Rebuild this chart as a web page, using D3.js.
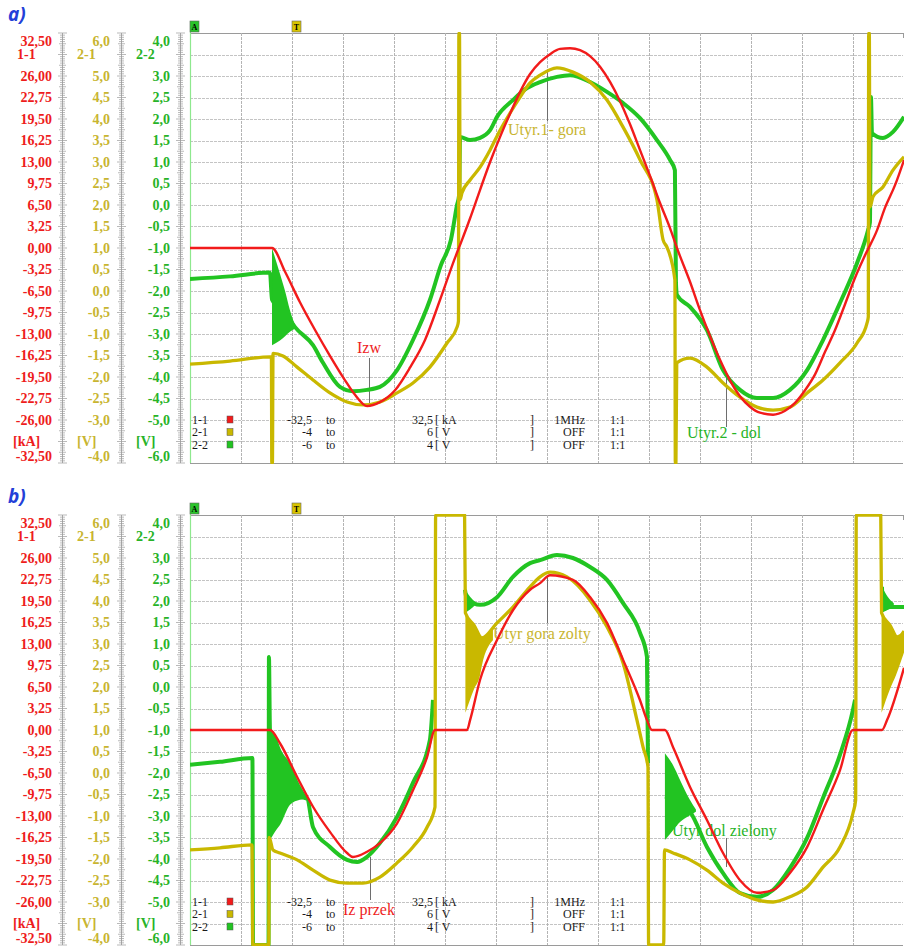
<!DOCTYPE html>
<html>
<head>
<meta charset="utf-8">
<script src="https://cdn.jsdelivr.net/npm/d3@7"></script>
<style>
body { margin: 0; background: #fff; }
svg { display: block; }
</style>
</head>
<body>
<svg id="chart" width="904" height="946"></svg>
<script>
// time axis: 14 divisions of 2,5 ms
var timeDomain = [0, 35]

// axis labels of the three channels
var kaTicks = [32.5, 26, 22.75, 19.5, 16.25, 13, 9.75, 6.5, 3.25, 0, -3.25, -6.5, -9.75, -13, -16.25, -19.5, -22.75, -26, -32.5]
var v21Ticks = [6, 5, 4.5, 4, 3.5, 3, 2.5, 2, 1.5, 1, 0.5, 0, -0.5, -1, -1.5, -2, -2.5, -3, -4]
var v22Ticks = [4, 3, 2.5, 2, 1.5, 1, 0.5, 0, -0.5, -1, -1.5, -2, -2.5, -3, -3.5, -4, -4.5, -5, -6]

// legend table
var legendChan = ["1-1", "2-1", "2-2"]
var legendFrom = ["-32,5", "-4", "-6"]
var legendTo = ["32,5", "6", "4"]
var legendUnit = ["kA", "V", "V"]
var legendFilter = ["1MHz", "OFF", "OFF"]
var legendRatio = ["1:1", "1:1", "1:1"]

// ---------- a) ----------  [ms, kA]
var redA = [[0,0],[4.02,0],[4.66,-3.6],[5.39,-8.2],[6.13,-12.4],[6.86,-16.3],[7.60,-20.0],[8.09,-22.2],[8.68,-23.9],[9.31,-23.3],[10.05,-21.5],[10.78,-18.1],[11.52,-13.9],[12.25,-7.9],[12.99,-1.5],[13.33,1.2],[13.73,4.5],[14.22,8.8],[14.71,13.0],[15.20,16.8],[15.69,20.3],[16.18,23.6],[16.67,26.3],[17.16,28.1],[17.65,29.3],[18.14,30.1],[18.63,30.2],[19.12,29.9],[19.61,29.0],[20.10,27.4],[20.59,25.1],[21.08,22.2],[21.57,18.7],[22.06,14.8],[22.55,10.9],[23.04,6.8],[23.53,3.0],[23.87,0],[24.51,-5.1],[25.00,-9.4],[25.49,-13.3],[25.98,-16.9],[26.47,-20.0],[26.96,-22.4],[27.45,-24.0],[27.94,-24.9],[28.58,-25.2],[29.17,-24.6],[29.66,-23.4],[30.15,-21.5],[30.64,-19.1],[31.13,-15.7],[31.62,-12.4],[32.11,-8.5],[32.60,-4.5],[33.09,-1.1],[33.68,2.7],[34.07,6.1],[34.56,9.5],[35,13.3]]
// [ms, V] channel 2-1
var yellowA = [[0,-1.70],[1.96,-1.63],[3.92,-1.53],[3.99,-1.53],[4.01,-4.0],[4.04,-4.0],[4.07,-1.45],[4.56,-1.51],[5.25,-1.77],[6.03,-2.07],[6.86,-2.37],[7.70,-2.58],[8.48,-2.65],[9.31,-2.58],[10.15,-2.37],[10.93,-2.14],[11.76,-1.77],[12.60,-1.21],[13.09,-0.84],[13.16,-0.70],[13.18,6.0],[13.21,6.0],[13.24,2.12],[13.33,2.28],[13.73,2.58],[14.22,2.88],[14.71,3.28],[15.20,3.74],[15.69,4.14],[16.18,4.51],[16.67,4.84],[17.16,5.02],[17.99,5.19],[18.77,5.09],[19.61,4.86],[20.44,4.44],[21.23,3.81],[22.06,3.05],[22.89,2.12],[23.19,1.19],[23.38,1.02],[23.77,0.26],[23.79,-4.0],[23.82,-4.0],[23.86,-1.67],[24.51,-1.56],[25.34,-1.77],[26.13,-2.14],[26.96,-2.47],[27.79,-2.70],[28.58,-2.77],[29.41,-2.70],[30.25,-2.37],[31.03,-2.07],[31.86,-1.67],[32.70,-1.21],[33.19,-0.74],[33.25,-0.60],[33.27,6.0],[33.30,6.0],[33.33,1.95],[33.48,2.19],[33.97,2.42],[34.46,2.81],[35,3.12]]
// [ms, V] channel 2-2
var greenA = [[0,-1.72],[1.96,-1.66],[3.92,-1.57],[4.02,-2.2],[4.66,-2.5],[5.15,-2.84],[6.03,-3.26],[6.52,-3.67],[7.35,-4.23],[7.99,-4.33],[8.68,-4.30],[9.31,-4.23],[10.15,-3.84],[10.93,-3.14],[11.76,-2.21],[12.30,-1.40],[12.79,-0.81],[13.09,0.0],[13.19,0.23],[13.24,1.58],[13.73,1.51],[14.22,1.56],[14.71,1.74],[15.05,2.05],[15.83,2.44],[16.52,2.72],[17.16,2.86],[17.99,2.98],[18.63,3.02],[19.61,2.86],[20.44,2.63],[21.23,2.37],[22.06,2.02],[22.89,1.51],[23.53,1.05],[23.77,0.81],[23.82,-1.80],[23.87,-2.09],[24.51,-2.37],[25.34,-2.91],[26.13,-3.84],[26.96,-4.30],[27.79,-4.49],[28.58,-4.49],[29.41,-4.30],[30.25,-3.84],[31.03,-3.14],[31.86,-2.28],[32.70,-1.35],[33.24,-0.58],[33.33,-0.40],[33.38,2.51],[33.43,1.67],[33.97,1.56],[34.46,1.70],[35,2.05]]
// ringing envelope [ms, upper V, lower V]
var greenAOsc = [[4.02,-1.0,-3.26],[4.41,-1.6,-3.15],[4.66,-2.0,-3.05],[4.90,-2.45,-2.95],[5.15,-2.8,-2.88]]

// ---------- b) ----------
var redB = [[0,0],[3.92,0],[4.41,-2.0],[5.25,-7.1],[6.03,-11.6],[6.86,-15.4],[7.70,-18.6],[7.99,-19.2],[8.68,-18.4],[9.31,-17.1],[10.15,-14.1],[10.93,-9.1],[11.62,-4.1],[12.01,0],[13.58,0],[13.73,1.5],[14.22,7.6],[15.05,13.6],[15.83,18.1],[16.67,21.2],[17.16,22.2],[17.65,23.4],[18.77,22.7],[19.61,20.1],[20.44,16.2],[21.23,10.6],[22.06,4.5],[22.40,1.5],[22.65,0],[23.28,0],[23.68,-2.6],[24.51,-8.6],[25.34,-13.6],[26.13,-18.6],[26.96,-22.7],[27.79,-24.6],[28.58,-24.2],[29.41,-21.6],[30.25,-17.7],[31.03,-12.1],[31.86,-6.1],[32.50,0],[33.92,0],[34.17,1.5],[35,9.4]]
var yellowB = [[0,-1.79],[1.47,-1.74],[3.04,-1.67],[3.08,-4.0],[3.86,-4.0],[3.88,-1.5],[4.07,-1.79],[4.41,-1.86],[5.25,-2.02],[6.03,-2.26],[6.86,-2.49],[7.70,-2.56],[8.48,-2.56],[9.31,-2.42],[10.15,-2.09],[10.93,-1.72],[11.62,-1.26],[12.01,-0.79],[12.04,6.0],[13.46,6.0],[13.50,3.72],[13.92,3.44],[14.31,3.14],[15.05,3.49],[15.83,3.86],[16.67,4.33],[17.16,4.56],[17.65,4.67],[18.48,4.56],[19.61,4.02],[20.44,3.40],[21.23,2.56],[21.91,1.23],[22.21,0.60],[22.45,0.14],[22.48,-4.0],[23.22,-4.0],[23.26,-1.79],[23.68,-1.86],[24.51,-2.02],[25.34,-2.26],[26.13,-2.56],[26.96,-2.79],[27.79,-2.95],[28.58,-3.00],[29.41,-2.88],[30.25,-2.65],[31.03,-2.19],[31.86,-1.72],[32.50,-0.93],[32.63,-0.63],[32.66,6.0],[33.86,6.0],[33.90,3.72],[34.31,3.44],[34.70,3.14],[35,3.30]]
var greenB = [[0,-1.81],[1.47,-1.74],[3.06,-1.65],[3.09,-6.0],[3.85,-6.0],[3.87,0.70],[3.92,-1.0],[4.41,-2.3],[4.90,-2.5],[5.74,-2.6],[6.03,-3.26],[6.86,-3.72],[7.70,-4.02],[8.19,-4.07],[8.68,-3.95],[9.31,-3.63],[10.15,-3.02],[10.93,-2.23],[11.76,-1.23],[11.91,-0.30], null,
  [13.48,2.26],[13.58,2.02],[13.87,1.95],[14.22,1.91],[15.05,2.09],[15.83,2.56],[16.67,2.88],[17.16,2.95],[17.99,3.07],[18.77,3.00],[19.61,2.79],[20.44,2.49],[21.23,1.95],[22.06,1.26],[22.40,0.70],[22.45,-1.77], null,
  [23.28,-2.55],[23.68,-2.6],[24.17,-2.75],[24.51,-2.9],[25.34,-3.72],[26.13,-4.33],[26.96,-4.79],[27.79,-4.88],[28.58,-4.72],[29.41,-4.21],[30.25,-3.51],[31.03,-2.58],[31.86,-1.58],[32.50,-0.53],[32.60,-0.30], null,
  [33.92,2.33],[33.97,1.80],[34.31,1.86],[35,1.86]]
var greenBOsc = [[3.92,-1.0,-3.56],[4.26,-1.19,-3.3],[4.41,-1.4,-3.21],[4.90,-1.77,-2.74],[5.39,-2.28,-2.62],[5.74,-2.56,-2.60]]
var greenBOsc2 = [[23.28,-1.54,-3.56],[23.68,-1.82,-3.33],[24.02,-2.16,-3.14],[24.51,-2.63,-2.98],[24.80,-2.85,-2.90]]
var greenBOsc3 = [[13.48,2.26,1.72],[13.73,2.10,1.80],[13.97,1.98,1.90]]
var greenBOsc4 = [[33.92,2.33,1.72],[34.20,2.10,1.80],[34.50,1.95,1.85]]
var yellowBOsc = [[13.50,3.72,1.40],[13.92,3.44,1.95],[14.22,3.20,2.28],[14.31,3.14,2.50],[14.85,3.35,3.09]]
var yellowBOsc2 = [[33.90,3.72,1.40],[34.31,3.44,1.95],[34.61,3.20,2.28],[35,3.30,2.80]]

var RED = "#f21b1b", YEL = "#c9b800", GRN = "#22c422"
var RED_T = "#ee1c1c", YEL_T = "#c8b530", GRN_T = "#27b327"
var SERIF = "'Liberation Serif', 'Times New Roman', 'DejaVu Serif', serif"

var locale = d3.formatLocale({decimal: ",", thousands: ".", grouping: [3], currency: ["", ""], minus: "-"})
var f2 = locale.format(".2f"), f1 = locale.format(".1f")

var svg = d3.select("#chart")

var panels = [
  {top: 33, name: "a)", red: redA, yellow: yellowA, green: greenA,
   greenOsc: [greenAOsc], yellowOsc: [],
   notes: [
     {text: "Izw", color: RED_T, x: 357, y: 320, lx: 369, y1: 325, y2: 370},
     {text: "Utyr.1- gora", color: YEL_T, x: 508, y: 102, lx: 547, y1: 37, y2: 88},
     {text: "Utyr.2 - dol", color: GRN_T, x: 687, y: 405, lx: 726, y1: 344, y2: 394}
   ]},
  {top: 515, name: "b)", red: redB, yellow: yellowB, green: greenB,
   greenOsc: [greenBOsc, greenBOsc2, greenBOsc3, greenBOsc4], yellowOsc: [yellowBOsc, yellowBOsc2],
   notes: [
     {text: "Iz przek", color: RED_T, x: 343, y: 400, lx: 370, y1: 342, y2: 385},
     {text: "Utyr gora zolty", color: YEL_T, x: 493, y: 124, lx: 547, y1: 62, y2: 108},
     {text: "Utyr dol zielony", color: GRN_T, x: 672, y: 321, lx: 726, y1: 323, y2: 352}
   ]}
]

panels.forEach(function(p, pi) {
   var top = p.top, bottom = top + 430
   var g = svg.append("g")

   var x = d3.scaleLinear().domain(timeDomain).range([190, 904])
   var yKa = d3.scaleLinear().domain([-32.5, 32.5]).range([bottom, top])
   var y21 = d3.scaleLinear().domain([-4, 6]).range([bottom, top])
   var y22 = d3.scaleLinear().domain([-6, 4]).range([bottom, top])

   // panel letter
   g.append("text")
      .attr("x", 8).attr("y", top - 12)
      .text(p.name)
      .style("font-family", "'Open Sans', 'Liberation Sans', sans-serif")
      .style("font-size", "19px").style("font-weight", "bold").style("font-style", "italic")
      .attr("fill", "#2340d8")

   ////////////////// grid //////////////////
   var hLines = d3.range(21).map(function(i) { return -32.5 + 3.25 * i })
   g.selectAll(".hgrid").data(hLines).enter().append("line")
      .attr("x1", 190).attr("x2", 903)
      .attr("y1", function(d) { return Math.round(yKa(d)) + 0.5 })
      .attr("y2", function(d) { return Math.round(yKa(d)) + 0.5 })
      .attr("stroke", function(d, i) { return (i == 20 || i == 0) ? "#9a9a9a" : "#c4c4c4" })
      .attr("stroke-dasharray", function(d, i) { return (i == 20 || i == 0) ? null : "3,1" })
   var vLines = d3.range(1, 14).map(function(i) { return 2.5 * i })
   g.selectAll(".vgrid").data(vLines).enter().append("line")
      .attr("x1", function(d) { return Math.round(x(d)) + 0.5 })
      .attr("x2", function(d) { return Math.round(x(d)) + 0.5 })
      .attr("y1", top).attr("y2", bottom)
      .attr("stroke", "#b4b4b4").attr("stroke-dasharray", "3,1")
   // right edge tick
   g.append("line").attr("x1", 903.5).attr("x2", 903.5).attr("y1", top).attr("y2", top + 5).attr("stroke", "#9a9a9a")
   // start cursor
   g.append("line").attr("x1", 190.5).attr("x2", 190.5).attr("y1", top - 12).attr("y2", bottom)
      .attr("stroke", "#8ee88e").attr("stroke-width", 1.2)

   // A / T markers
   var marks = [{t: 0, c: "#2ac42a", s: "A"}, {t: 5, c: "#d8c400", s: "T"}]
   marks.forEach(function(m) {
      var mx = Math.round(x(m.t))
      g.append("rect").attr("x", mx).attr("y", top - 12).attr("width", 9).attr("height", 11)
         .attr("fill", m.c).attr("stroke", "#666").attr("stroke-width", 0.6)
      g.append("text").attr("x", mx + 4.5).attr("y", top - 3.5).text(m.s)
         .attr("text-anchor", "middle")
         .style("font-family", SERIF).style("font-size", "8px").style("font-weight", "bold")
   })

   ////////////////// left scales //////////////////
   var chans = [
      {scale: yKa, ticks: kaTicks, fmt: f2, col: RED_T, labelX: 52, rulerX: 62.5, name: "1-1", unit: "[kA]", nameX: 17, unitX: 13},
      {scale: y21, ticks: v21Ticks, fmt: f1, col: YEL_T, labelX: 110, rulerX: 121.5, name: "2-1", unit: "[V]", nameX: 77, unitX: 77},
      {scale: y22, ticks: v22Ticks, fmt: f1, col: GRN_T, labelX: 170, rulerX: 180.5, name: "2-2", unit: "[V]", nameX: 136, unitX: 136}
   ]
   chans.forEach(function(c) {
      var dom = c.scale.domain(), step = (dom[1] - dom[0]) / 200
      var minor = d3.range(201).map(function(i) { return dom[0] + step * i })
      g.append("line").attr("x1", c.rulerX).attr("x2", c.rulerX)
         .attr("y1", top).attr("y2", bottom).attr("stroke", "#a8a8a8").attr("stroke-width", 1)
      g.selectAll(".rt").data(minor).enter().append("line")
         .attr("x1", function(d, i) { return c.rulerX - (i % 10 == 0 ? 4.5 : (i % 5 == 0 ? 3.5 : 2.5)) })
         .attr("x2", function(d, i) { return c.rulerX + (i % 10 == 0 ? 4.5 : (i % 5 == 0 ? 3.5 : 2.5)) })
         .attr("y1", function(d) { return c.scale(d) })
         .attr("y2", function(d) { return c.scale(d) })
         .attr("stroke", "#9c9c9c").attr("stroke-width", 0.7)

      g.selectAll(".tl").data(c.ticks).enter().append("text")
         .attr("x", c.labelX)
         .attr("y", function(d) { return Math.min(Math.max(c.scale(d), top + 8), bottom - 7) })
         .attr("dy", "0.35em")
         .attr("text-anchor", "end")
         .text(function(d) { return c.fmt(d) })
         .attr("fill", c.col)
         .style("font-family", SERIF).style("font-size", "14px").style("font-weight", "bold")
      g.append("text").attr("x", c.nameX).attr("y", top + 21.5).attr("dy", "0.35em").text(c.name)
         .attr("fill", c.col)
         .style("font-family", SERIF).style("font-size", "14px").style("font-weight", "bold")
      g.append("text").attr("x", c.unitX).attr("y", bottom - 21.5).attr("dy", "0.35em").text(c.unit)
         .attr("fill", c.col)
         .style("font-family", SERIF).style("font-size", "14px").style("font-weight", "bold")
   })

   ////////////////// annotations (under traces) //////////////////
   p.notes.forEach(function(n) {
      g.append("line").attr("x1", n.lx + 0.5).attr("x2", n.lx + 0.5)
         .attr("y1", top + n.y1).attr("y2", top + n.y2).attr("stroke", "#6e6e6e").attr("stroke-width", 1)
      g.append("text").attr("x", n.x).attr("y", top + n.y).text(n.text)
         .attr("fill", n.color)
         .style("font-family", SERIF).style("font-size", "16px")
   })

   ////////////////// traces //////////////////
   g.append("clipPath").attr("id", "clip" + pi).append("rect")
      .attr("x", 190).attr("y", top - 1).attr("width", 714).attr("height", 432)
   var plot = g.append("g").attr("clip-path", "url(#clip" + pi + ")")

   function lineFor(ys) {
      return d3.line()
         .defined(function(d) { return d !== null })
         .curve(d3.curveMonotoneX)
         .x(function(d) { return x(d[0]) })
         .y(function(d) { return ys(d[1]) })
   }
   function areaFor(ys) {
      return d3.area()
         .curve(d3.curveMonotoneX)
         .x(function(d) { return x(d[0]) })
         .y0(function(d) { return ys(d[2]) })
         .y1(function(d) { return ys(d[1]) })
   }

   plot.append("path").datum(p.green)
      .attr("d", lineFor(y22)).attr("fill", "none")
      .attr("stroke", GRN).attr("stroke-width", 4).attr("stroke-linejoin", "round")
   p.greenOsc.forEach(function(o) {
      plot.append("path").datum(o).attr("d", areaFor(y22)).attr("fill", GRN)
   })
   plot.append("path").datum(p.yellow)
      .attr("d", lineFor(y21)).attr("fill", "none")
      .attr("stroke", YEL).attr("stroke-width", 3.3).attr("stroke-linejoin", "round")
   p.yellowOsc.forEach(function(o) {
      plot.append("path").datum(o).attr("d", areaFor(y21)).attr("fill", YEL)
   })
   plot.append("path").datum(p.red)
      .attr("d", lineFor(yKa)).attr("fill", "none")
      .attr("stroke", RED).attr("stroke-width", 2.4).attr("stroke-linejoin", "round")

   ////////////////// legend //////////////////
   var colors = [RED, YEL, GRN]
   var rowY = [386.5, 399, 411.5]
   var lg = g.append("g")
      .style("font-family", SERIF).style("font-size", "12px").attr("fill", "#1a1a1a")
   legendChan.forEach(function(ch, i) {
      var yy = top + rowY[i]
      lg.append("text").attr("x", 192).attr("y", yy).attr("dy", "0.35em").text(ch)
      lg.append("rect").attr("x", 227).attr("y", yy - 3.5).attr("width", 6).attr("height", 7)
         .attr("fill", colors[i]).attr("stroke", "#555").attr("stroke-width", 0.5)
      lg.append("text").attr("x", 312).attr("y", yy).attr("dy", "0.35em").attr("text-anchor", "end").text(legendFrom[i])
      lg.append("text").attr("x", 326).attr("y", yy).attr("dy", "0.35em").text("to")
      lg.append("text").attr("x", 433).attr("y", yy).attr("dy", "0.35em").attr("text-anchor", "end").text(legendTo[i])
      lg.append("text").attr("x", 435).attr("y", yy).attr("dy", "0.35em").text("[ " + legendUnit[i])
      lg.append("text").attr("x", 530).attr("y", yy).attr("dy", "0.35em").text("]")
      lg.append("text").attr("x", 585).attr("y", yy).attr("dy", "0.35em").attr("text-anchor", "end").text(legendFilter[i])
      lg.append("text").attr("x", 610).attr("y", yy).attr("dy", "0.35em").text(legendRatio[i])
   })
})
</script>
</body>
</html>
